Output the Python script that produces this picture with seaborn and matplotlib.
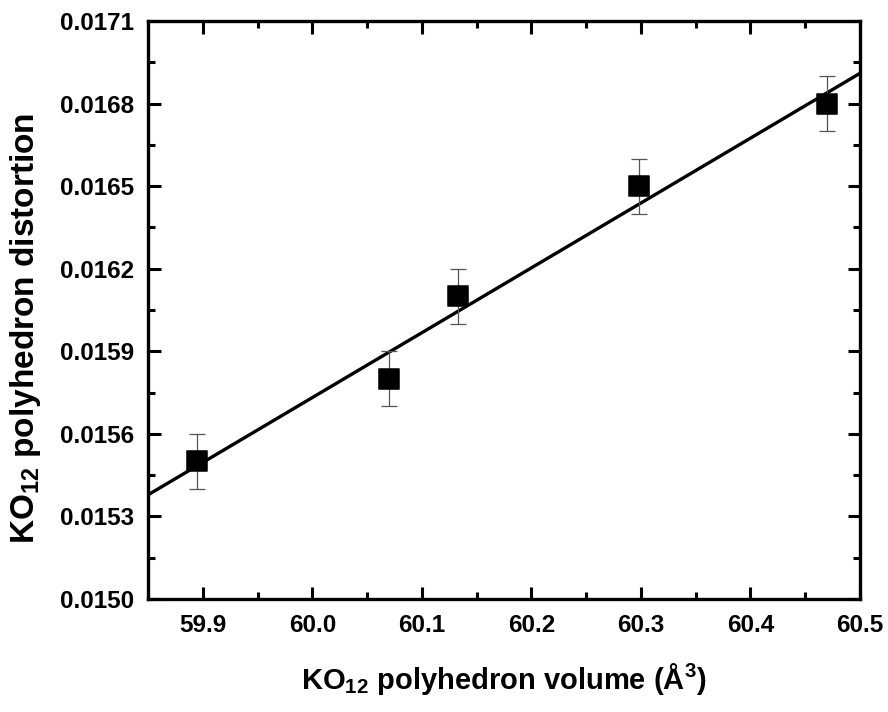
import numpy as np
import pandas as pd
import matplotlib
matplotlib.use("Agg")
import matplotlib.pyplot as plt
import seaborn as sns
from matplotlib.ticker import MultipleLocator, FormatStrFormatter

# data
volume = [59.895, 60.070, 60.133, 60.298, 60.470]
distortion = [0.0155, 0.0158, 0.0161, 0.0165, 0.0168]
dist_err = [0.0001, 0.0001, 0.0001, 0.0001, 0.0001]

df = pd.DataFrame({"volume": volume, "distortion": distortion, "err": dist_err})

sns.set_style("ticks")
plt.rcParams['font.family'] = ['Liberation Sans', 'DejaVu Sans']
plt.rcParams['font.weight'] = 'bold'
plt.rcParams['text.color'] = 'black'
plt.rcParams['axes.labelcolor'] = 'black'
plt.rcParams['xtick.color'] = 'black'
plt.rcParams['ytick.color'] = 'black'
plt.rcParams['mathtext.fontset'] = 'custom'
plt.rcParams['mathtext.rm'] = 'Liberation Sans:bold'
plt.rcParams['mathtext.it'] = 'Liberation Sans:bold'
plt.rcParams['mathtext.bf'] = 'Liberation Sans:bold'

fig = plt.figure(figsize=(8.88, 7.12), dpi=100)
ax = fig.add_axes([0.1667, 0.1587, 0.8018, 0.8118])
ax.set_xlim(59.85, 60.5)
ax.set_ylim(0.0150, 0.0171)

# linear fit over the full x range
sns.regplot(x="volume", y="distortion", data=df, ax=ax, ci=None, truncate=False,
            scatter=False, line_kws={"color": "black", "lw": 2.4})

ax.errorbar(df["volume"], df["distortion"], yerr=df["err"], fmt="none",
            ecolor="#555555", elinewidth=0.9, capsize=6, capthick=0.9, zorder=3)
sns.scatterplot(x="volume", y="distortion", data=df, ax=ax, marker="s", s=195,
                color="black", edgecolor="black", zorder=4)

ax.xaxis.set_major_locator(MultipleLocator(0.1))
ax.xaxis.set_minor_locator(MultipleLocator(0.05))
ax.yaxis.set_major_locator(MultipleLocator(0.0003))
ax.yaxis.set_minor_locator(MultipleLocator(0.00015))
ax.xaxis.set_major_formatter(FormatStrFormatter("%.1f"))
ax.yaxis.set_major_formatter(FormatStrFormatter("%.4f"))

ax.tick_params(which="both", direction="in", top=True, right=True, width=2.2, labelsize=17.5)
ax.tick_params(which="major", length=9)
ax.tick_params(which="minor", length=5)
ax.tick_params(axis="x", pad=11)
ax.tick_params(axis="y", pad=10)
for s in ax.spines.values():
    s.set_linewidth(2.4)
    s.set_color("black")

ax.set_xlabel(r"KO$_{12}$ polyhedron volume (Å$^{3}$)", fontsize=21, fontweight="bold", labelpad=17)
ax.set_ylabel(r"KO$_{12}$ polyhedron distortion", fontsize=24, fontweight="bold")
ax.yaxis.set_label_coords(-0.148, 0.468)

fig.savefig("out.png", dpi=100)
